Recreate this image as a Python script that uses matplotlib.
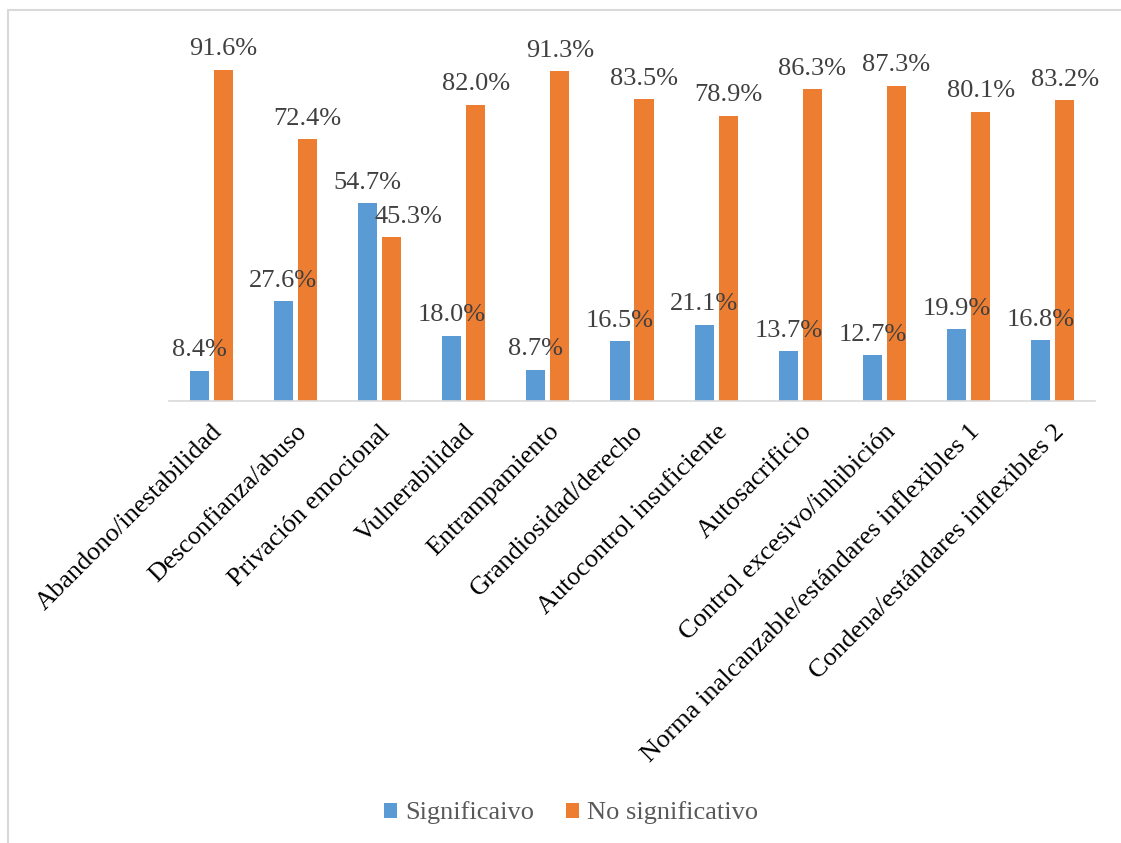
import matplotlib
matplotlib.use("Agg")
import matplotlib.pyplot as plt
import numpy as np
from matplotlib.patches import Rectangle

categories = ["Abandono/inestabilidad", "Desconfianza/abuso", "Privación emocional",
              "Vulnerabilidad", "Entrampamiento", "Grandiosidad/derecho",
              "Autocontrol insuficiente", "Autosacrificio", "Control excesivo/inhibición",
              "Norma inalcanzable/estándares inflexibles 1",
              "Condena/estándares inflexibles 2"]
significativo = [8.4, 27.6, 54.7, 18.0, 8.7, 16.5, 21.1, 13.7, 12.7, 19.9, 16.8]
no_significativo = [91.6, 72.4, 45.3, 82.0, 91.3, 83.5, 78.9, 86.3, 87.3, 80.1, 83.2]
series_names = ["Significaivo", "No significativo"]

plt.rcParams['font.family'] = ['Liberation Serif', 'DejaVu Serif']

W, H = 1121, 843
fig = plt.figure(figsize=(W/100, H/100), dpi=100)
# border
fig.patches.append(Rectangle((8/W, -0.01), 1.2, (H-10)/H + 0.01, transform=fig.transFigure,
                             fill=False, edgecolor='#D9D9D9', linewidth=1.5))

ax_left, ax_right, ax_bottom = 169, 1095, 401
ymax = 100
px_per = 331/91.6
ax_top = ax_bottom - ymax*px_per
ax = fig.add_axes([ax_left/W, 1-ax_bottom/H, (ax_right-ax_left)/W, (ax_bottom-ax_top)/H])

x = np.arange(len(categories))
bw = 0.226
gap = 0.059
blue, orange = '#5B9BD5', '#ED7D31'
b1 = ax.bar(x - (bw+gap)/2, significativo, bw, color=blue, label=series_names[0])
b2 = ax.bar(x + (bw+gap)/2, no_significativo, bw, color=orange, label=series_names[1])

for r, v in zip(b1, significativo):
    ax.annotate(f"{v:.1f}%", (r.get_x()+r.get_width()/2, v), xytext=(0, 10.5),
                textcoords='offset points', ha='center', va='baseline',
                fontsize=19, color='#404040')
for r, v, other in zip(b2, no_significativo, significativo):
    dx = 12 if abs(v - other) < 15 else 0   # nudge overlapping label aside
    ax.annotate(f"{v:.1f}%", (r.get_x()+r.get_width()/2, v), xytext=(dx, 10.5),
                textcoords='offset points', ha='center', va='baseline',
                fontsize=19, color='#404040')

ax.set_xlim(-0.5, len(categories)-0.5)
ax.set_ylim(0, ymax)
for s in ['top', 'right', 'left']:
    ax.spines[s].set_visible(False)
ax.spines['bottom'].set_color('#D9D9D9')
ax.spines['bottom'].set_linewidth(1.2)
ax.set_yticks([])
ax.set_xticks(x)
ax.set_xticklabels(categories, rotation=45, ha='right', rotation_mode='anchor',
                   fontsize=19, color='black')
ax.tick_params(axis='x', length=0, pad=14)

leg = fig.legend(handles=[b1, b2], loc='center', bbox_to_anchor=(571/W, 1-813/H), ncol=2,
                 frameon=False, fontsize=19, handlelength=0.5, handleheight=0.5,
                 handletextpad=0.3, columnspacing=1.2)
for t in leg.get_texts():
    t.set_color('#595959')

fig.savefig("out.png", dpi=100)
